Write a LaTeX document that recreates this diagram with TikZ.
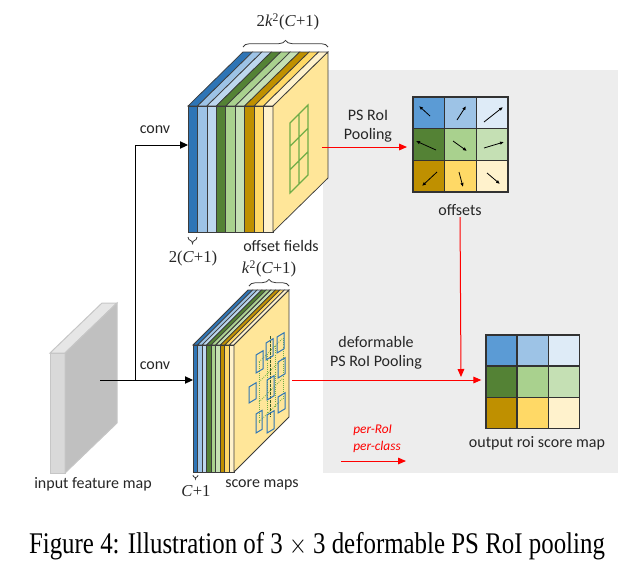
\documentclass[tikz,border=0pt]{standalone}
\usepackage{fontspec}
\setmainfont{Carlito}
\newfontfamily\timesfont{Liberation Serif}
\usetikzlibrary{arrows.meta,decorations.pathreplacing}

\definecolor{blueD}{RGB}{46,117,182}
\definecolor{blueC}{RGB}{91,155,213}
\definecolor{blueM}{RGB}{157,195,230}
\definecolor{blueL}{RGB}{189,215,238}
\definecolor{blueX}{RGB}{222,235,247}
\definecolor{greenD}{RGB}{84,130,53}
\definecolor{greenM}{RGB}{169,209,142}
\definecolor{greenL}{RGB}{197,224,180}
\definecolor{goldD}{RGB}{191,144,0}
\definecolor{goldM}{RGB}{255,217,102}
\definecolor{goldL}{RGB}{255,242,204}
\definecolor{faceY}{RGB}{255,230,153}
\definecolor{panelG}{RGB}{237,237,237}
\definecolor{inkG}{RGB}{38,38,38}
\definecolor{gridG}{RGB}{112,173,71}

\tikzset{every picture/.style={line width=0.75pt}}
\tikzset{
  slice/.style={draw={rgb,255:red,60;green,60;blue,60},line width=0.55pt},
  lbl/.style={inner sep=0.75pt,text=inkG,font=\fontsize{12}{14}\selectfont},
  mathlbl/.style={inner sep=0.75pt,text=inkG,font=\timesfont\fontsize{12.5}{14}\selectfont},
  cell/.style={draw={rgb,255:red,50;green,50;blue,50},line width=1pt,inner sep=0pt},
  conn/.style={draw=black,line width=0.75pt,-{Triangle[length=6pt,width=5.5pt]}},
  redarrow/.style={draw=red,line width=0.75pt,-{Triangle[length=6pt,width=5pt]}},
  offarrow/.style={draw=black,line width=0.6pt,-{Latex[length=3pt,width=2.6pt]}},
  bluebox/.style={draw=blueD,line width=0.75pt},
  brc/.style={draw={rgb,255:red,60;green,60;blue,60},line width=0.6pt,decorate,decoration={brace,amplitude=5pt}}
}
\newcommand\skewbox[4]{\draw[bluebox] (#1,#2) -- ++(#3,{-0.6*#3}) -- ++(0,#4) -- ++(-#3,{0.6*#3}) -- cycle;}

\begin{document}
\begin{tikzpicture}[x=0.75pt,y=0.75pt,yscale=-1,xscale=1]
\useasboundingbox (0,0) rectangle (640,576);

%Shape: Gray panel
\fill[panelG] (323,70) rectangle (618,473);

%Shape: Input feature map
\draw[draw=gray!45,fill={rgb,255:red,230;green,230;blue,230}] (50,353) -- (102,303) -- (117,303) -- (65,353) -- cycle;
\draw[draw=gray!45,fill={rgb,255:red,217;green,217;blue,217}] (50,353) rectangle (65,473);
\draw[draw=gray!45,fill={rgb,255:red,192;green,192;blue,192}] (65,353) -- (117,303) -- (117,423) -- (65,473) -- cycle;

%Shape: Offset fields stack
\foreach \c [count=\i from 0] in {blueD,blueM,blueL,greenD,greenM,greenL,goldD,goldM,goldL} {
  \draw[slice,fill=\c] (188+\i*9.44,106) -- ++(55,-54) -- ++(9.44,0) -- ++(-55,54) -- cycle;
  \draw[slice,fill=\c] (188+\i*9.44,106) rectangle ++(9.44,126);
}
\draw[slice,fill=faceY] (273,106) -- (328,52) -- (328,178) -- (273,232) -- cycle;
%Shape: Green grid on the face
\draw[draw=gridG,line width=0.9pt] (290,123) -- (308,105) -- (308,175) -- (290,193) -- cycle
  (299,114) -- (299,184) (290,146.3) -- (308,128.3) (290,169.7) -- (308,151.7);

%Shape: Score maps stack
\foreach \c [count=\i from 0] in {blueD,blueM,blueL,greenD,greenM,greenL,goldD,goldM,goldL} {
  \draw[slice,fill=\c] (193+\i*4.55,345) -- ++(55,-55) -- ++(4.55,0) -- ++(-55,55) -- cycle;
  \draw[slice,fill=\c] (193+\i*4.55,345) rectangle ++(4.55,127);
}
\draw[slice,fill=faceY] (234,345) -- (289,290) -- (289,417) -- (234,472) -- cycle;
%Shape: Dotted grid and shifted bins on the face
\foreach \x in {259,267,275,283} \draw[draw=gridG,densely dotted,line width=0.6pt] (\x,362-\x+259) -- ++(0,60);
\foreach \y in {0,20,40,60} \draw[draw=gridG,densely dotted,line width=0.6pt] (259,362+\y) -- ++(24,-24);
\draw[draw=greenD!70!black,dash pattern=on 2pt off 1pt,line width=0.7pt] (270,336) -- (270,417);
\skewbox{266}{343}{7}{17}
\skewbox{277}{337}{7}{16}
\skewbox{256}{355}{7}{18}
\skewbox{278}{362}{7}{16}
\skewbox{267}{380}{7}{20}
\skewbox{249}{387}{7}{16}
\skewbox{278}{397}{7}{16}
\skewbox{256}{414}{6}{19}
\skewbox{267}{415}{7}{18}

%Shape: Offsets grid
\foreach \c [count=\k from 0] in {blueC,blueM,blueX,greenD,greenM,greenL,goldD,goldM,goldL} {
  \pgfmathtruncatemacro\r{div(\k,3)+1}
  \pgfmathtruncatemacro\q{mod(\k,3)+1}
  \node[cell,fill=\c,minimum size=23.75pt] (off-\r-\q) at (413+31.67*\q-15.83,97+31.67*\r-15.83) {};
}
\foreach \a/\b in {{(430,116)}/{(419,106)}, {(457,120)}/{(466,106)}, {(484,122)}/{(503,107)},
                   {(436,150)}/{(416,141)}, {(453,141)}/{(467,151)}, {(484,148)}/{(504,142)},
                   {(437,172)}/{(422,186)}, {(459,172)}/{(463,187)}, {(487,173)}/{(500,184)}}
  \draw[offarrow] \a -- \b;

%Shape: Output roi score map
\foreach \c [count=\k from 0] in {blueC,blueM,blueX,greenD,greenM,greenL,goldD,goldM,goldL} {
  \pgfmathtruncatemacro\r{div(\k,3)+1}
  \pgfmathtruncatemacro\q{mod(\k,3)+1}
  \node[cell,fill=\c,minimum size=23.3pt] (out-\r-\q) at (486+31.1*\q-15.55,335+31.1*\r-15.55) {};
}

%Braces
\draw[brc] (243,47) -- (328,47);
\draw[brc] (197,237) -- (188,237);
\draw[brc] (249,286) -- (289,286);
\draw[brc,decoration={brace,amplitude=3pt}] (198,475) -- (193,475);

% Coordinates for connectors
\coordinate (inp) at (100,380);
\coordinate (split) at (135,380);
\coordinate (offFront) at (188,145);
\coordinate (scoFront) at (193,380);
\coordinate (offFace) at (322,147);
\coordinate (scoFace) at (292,380);
\coordinate (join) at (461,377);
\coordinate (perTail) at (341,461);
\coordinate (perHead) at (406,461);

% Text Node
\node[mathlbl] (topBr) at (288,22) {2\textit{k}\textsuperscript{2}(\textit{C}+1)};
\node[mathlbl] (offBr) at (193,258) {2(\textit{C}+1)};
\node[mathlbl] (scoBr) at (269,269) {\textit{k}\textsuperscript{2}(\textit{C}+1)};
\node[mathlbl] (cBr) at (196,491) {\textit{C}+1};
\node[lbl] (offFields) at (281,246) {offset fields};
\node[lbl] (scoMaps) at (262,485) {score maps};
\node[lbl] (inLbl) at (93,484) {input feature map};
\node[lbl] (conv1) at (155,130) {conv};
\node[lbl] (conv2) at (155,366) {conv};
\node[lbl,align=center] (psLbl) at (368,126) {PS RoI\\Pooling};
\node[lbl] (offLbl) at (460,210) {offsets};
\node[lbl,align=center] (defLbl) at (376,353) {deformable\\PS RoI Pooling};
\node[lbl] (outLbl) at (537,443) {output roi score map};
\node[inner sep=0.75pt,text=red,align=left,font=\itshape\fontsize{10}{13}\selectfont] (perLbl) at (377,439) {per-RoI\\per-class};

% Connectors
\draw[conn] (inp) -- (scoFront);
\draw[conn] (split) |- (offFront);
\draw[redarrow,shorten >=4pt] (offFace) -- (off-2-1.west |- offFace);
\draw[redarrow] (offLbl) -- (join);
\draw[redarrow,shorten >=3pt] (scoFace) -- (out-2-1.west |- scoFace);
\draw[redarrow] (perTail) -- (perHead);

% Caption
\node[inner sep=0pt,text=black] (caption) at (317,546) {\scalebox{0.83}[1]{\timesfont\fontsize{22.5}{27}\selectfont Figure 4: Illustration of 3 $\times$ 3 deformable PS RoI pooling}};

\end{tikzpicture}
\end{document}
